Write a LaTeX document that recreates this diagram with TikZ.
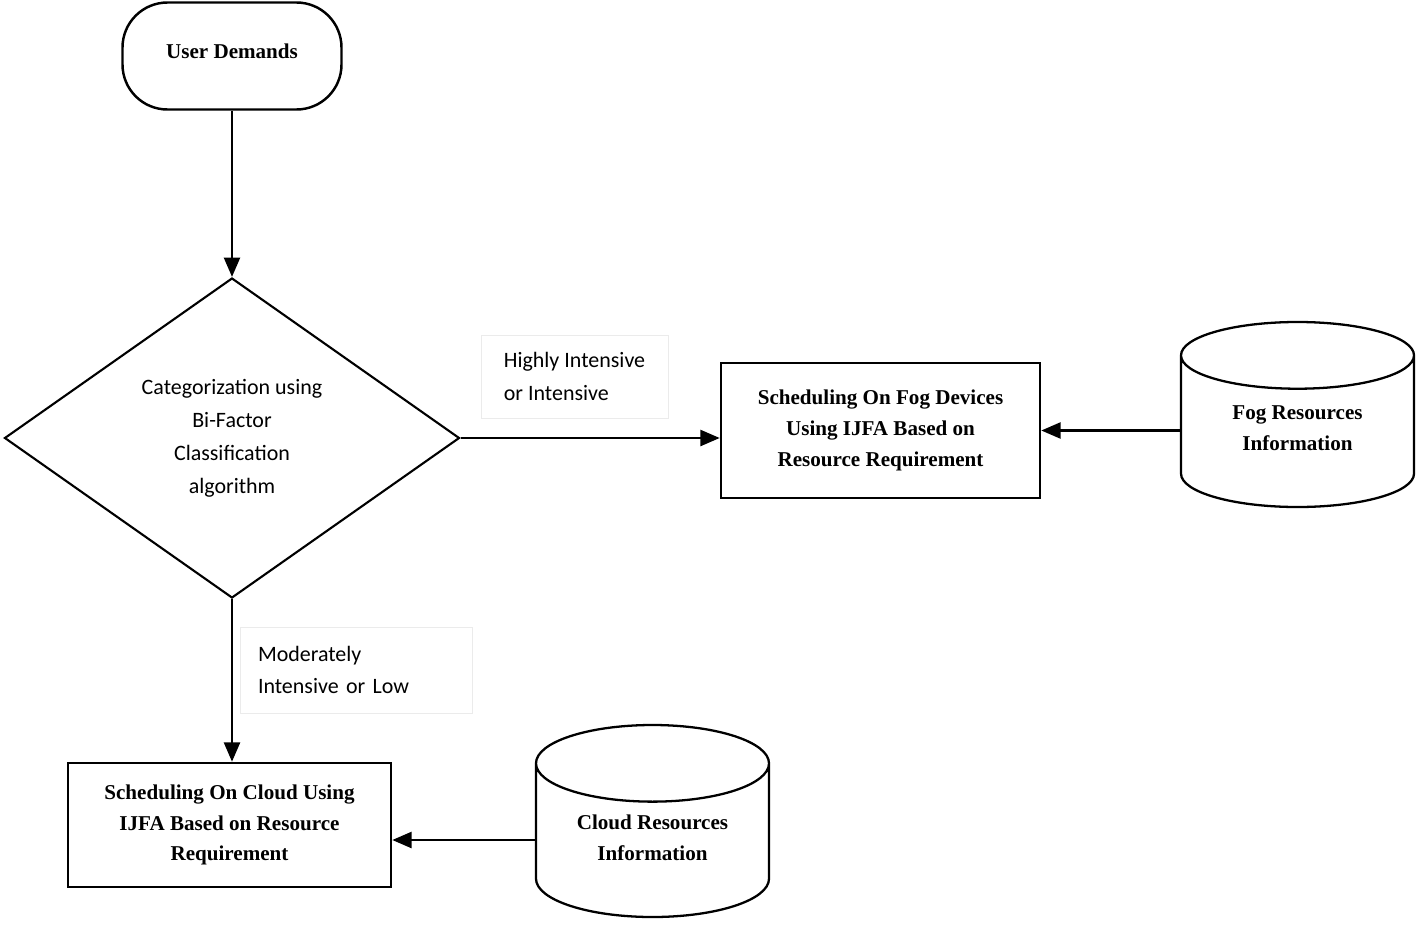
\documentclass[tikz,border=0pt]{standalone}
\usepackage{fontspec}
\setmainfont{Liberation Serif}
\newfontfamily\labelfont{Carlito}
\usetikzlibrary{shapes.geometric,arrows.meta,calc}

\tikzset{
  flowline/.style={line width=1.6pt,-{Triangle[length=11pt,width=9pt]}},
  boxtext/.style={align=center,font=\bfseries\fontsize{12}{17.5}\selectfont},
  procbox/.style={draw,line width=1.4pt,boxtext},
  dbstore/.style={draw,cylinder,shape border rotate=90,aspect=0.47,line width=1.3pt,boxtext,anchor=shape center,text depth=0.35cm},
  lblbox/.style={draw=black!8,align=left,font=\labelfont\fontsize{12.5}{18.5}\selectfont}
}

\begin{document}
\begin{tikzpicture}
\useasboundingbox (0,0) rectangle (28.32,-18.5);

\node[procbox,rounded corners=0.9cm,minimum width=4.38cm,minimum height=2.14cm] (user) at (4.64,-1.12) {\raisebox{0.18cm}{User Demands}};
\node[draw,diamond,line width=1.2pt,inner sep=0pt,minimum width=9.1cm,minimum height=6.4cm,align=center,font=\labelfont\fontsize{12.5}{18.7}\selectfont] (cat) at (4.64,-8.76) {Categorization using\\Bi-Factor\\Classification\\algorithm};

\node[procbox,minimum width=6.38cm,minimum height=2.7cm] (fog) at (17.61,-8.61) {Scheduling On Fog Devices\\Using IJFA Based on\\Resource Requirement};
\node[procbox,minimum width=6.46cm,minimum height=2.48cm] (cloud) at (4.59,-16.5) {Scheduling On Cloud Using\\IJFA Based on Resource\\Requirement};

\node[dbstore,minimum width=4.66cm,minimum height=3.7cm] (fogdb) at (25.95,-8.29) {Fog Resources\\Information};
\node[dbstore,minimum width=4.66cm,minimum height=3.84cm] (clouddb) at (13.05,-16.42) {Cloud Resources\\Information};

\node[lblbox,minimum width=3.74cm,minimum height=1.66cm] (highlbl) at (11.49,-7.53) {Highly Intensive\\or Intensive};
\node[lblbox,text width=3.92cm,inner xsep=0.36cm,minimum height=1.72cm] (modlbl) at (7.12,-13.4) {Moderately\\Intensive or Low};

\coordinate (cloudin) at ($(clouddb.shape center)+(0,-0.38)$);

\draw[flowline] (user) -- (cat);
\draw[flowline] (cat.east) -- (cat.east -| fog.west);
\draw[flowline] (fog.east -| fogdb.west) -- (fog.east);
\draw[flowline] (cat.south) -- (cat.south |- cloud.north);
\draw[flowline] (cloudin -| clouddb.west) -- (cloudin -| cloud.east);

\end{tikzpicture}
\end{document}
